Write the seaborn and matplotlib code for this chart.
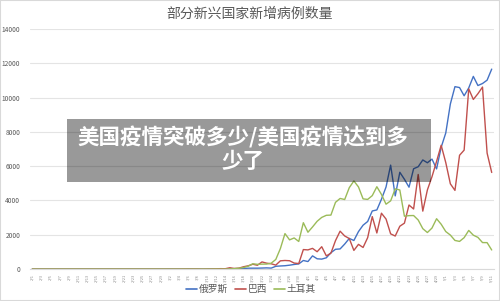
import datetime as dt
import matplotlib
matplotlib.use('Agg')
import matplotlib.pyplot as plt
import matplotlib.patches as mpatches
import pandas as pd
import seaborn as sns

# 每日新增病例 2/1 ~ 5/11
start = dt.date(2020, 2, 1)
n_days = 101
dates = [start + dt.timedelta(days=i) for i in range(n_days)]
date_labels = [f'{d.month}/{d.day}' for d in dates]

feb_zeros = [0] * 29

russia = feb_zeros + [
    0, 1, 0, 0, 1, 6, 4, 3, 0, 3, 8, 6, 11, 14, 4, 27, 24, 33, 52, 54,
    53, 61, 71, 57, 163, 182, 196, 228, 270, 302, 501,
    440, 771, 601, 582, 658, 954, 1154, 1175, 1459, 1786, 1667, 2186, 2558, 2774, 3388,
    3448, 4070, 4785, 6060, 4268, 5642, 5236, 4774, 5849, 5966, 6361, 6198, 6411, 5841, 7099,
    7933, 9623, 10633, 10581, 10102, 10559, 11231, 10699, 10817, 11012, 11656]

brazil = feb_zeros + [
    0, 0, 0, 1, 5, 5, 6, 6, 0, 6, 9, 18, 25, 21, 79, 34, 57, 137, 193, 283,
    224, 418, 345, 310, 232, 482, 502, 487, 352, 323, 1138,
    1119, 1208, 1012, 1304, 770, 926, 1661, 2210, 1930, 1781, 1089, 1442, 1261, 1832, 3058,
    2105, 3257, 2917, 2055, 1927, 2498, 2678, 3735, 3503, 5514, 3379, 4613, 5385, 6276, 7218,
    6209, 4970, 4588, 6633, 6935, 10503, 9888, 10222, 10611, 6760, 5632]

turkey = feb_zeros + [
    0, 0, 0, 0, 0, 0, 0, 0, 0, 1, 0, 4, 0, 1, 12, 29, 51, 93, 168, 311,
    277, 289, 293, 343, 561, 1196, 2069, 1704, 1815, 1610, 2704,
    2148, 2456, 2786, 3013, 3135, 3148, 3892, 4117, 4056, 4747, 5138, 4789, 4093, 4062, 4281,
    4801, 4353, 3783, 3977, 4674, 4611, 3083, 3116, 3122, 2861, 2357, 2131, 2392, 2936, 2615,
    2188, 1983, 1670, 1614, 1832, 2253, 1977, 1848, 1546, 1542, 1114]

countries = ['俄罗斯', '巴西', '土耳其']
colors = ['#4472C4', '#C0504D', '#9BBB59']

df = pd.DataFrame({
    'day': list(range(n_days)) * 3,
    'cases': russia + brazil + turkey,
    'country': [c for c in countries for _ in range(n_days)],
})

sns.set_style('white')
plt.rcParams['font.family'] = ['Noto Sans CJK SC', 'DejaVu Sans']

fig = plt.figure(figsize=(5, 3.01), dpi=100)
ax = fig.add_axes([0.06, 0.106, 0.928, 0.798])

sns.lineplot(data=df, x='day', y='cases', hue='country', hue_order=countries,
             palette=colors, linewidth=1.0, ax=ax, legend=False)

ax.set_xlim(-0.5, n_days - 0.5)
ax.set_ylim(0, 14000)
ax.set_yticks(range(0, 14001, 2000))
ax.set_yticklabels([str(v) for v in range(0, 14001, 2000)], fontsize=4.8, color='#595959')
ax.set_xticks(range(0, n_days, 2))
ax.set_xticklabels(date_labels[::2], rotation=90, fontsize=2.8, color='#8c8c8c')
ax.tick_params(axis='x', length=2, width=0.4, color='#d9d9d9', pad=1.5)
ax.tick_params(axis='y', length=0, pad=7)
ax.grid(axis='y', color='#e4e4e4', linewidth=0.8)
ax.set_xlabel('')
ax.set_ylabel('')
for side in ['top', 'right', 'left']:
    ax.spines[side].set_visible(False)
ax.spines['bottom'].set_color('#d9d9d9')
ax.spines['bottom'].set_linewidth(0.8)

fig.text(0.5, 0.955, '部分新兴国家新增病例数量', ha='center', va='center',
         fontsize=10, color='#595959')

handles = [plt.Line2D([], [], color=c, linewidth=1.2) for c in colors]
fig.legend(handles, countries, loc='center', bbox_to_anchor=(0.502, 0.04), ncol=3,
           frameon=False, fontsize=7, labelcolor='#595959', handlelength=1.1,
           handletextpad=0.2, columnspacing=0.7)

# 灰色遮罩和标题
fig.patches.append(mpatches.Rectangle((0.134, 0.395), 0.728, 0.209, transform=fig.transFigure,
                                      facecolor='black', alpha=0.4, edgecolor='none', zorder=10))
fig.text(0.486, 0.505, '美国疫情突破多少/美国疫情达到多\n少了', ha='center', va='center',
         fontsize=15.5, fontweight='bold', color='white', linespacing=1.15, zorder=11)

# 外框
fig.patches.append(mpatches.Rectangle((0, 0), 1, 1, transform=fig.transFigure, fill=False,
                                      edgecolor='#d9d9d9', linewidth=1.5))

fig.savefig('out.png', dpi=100)
